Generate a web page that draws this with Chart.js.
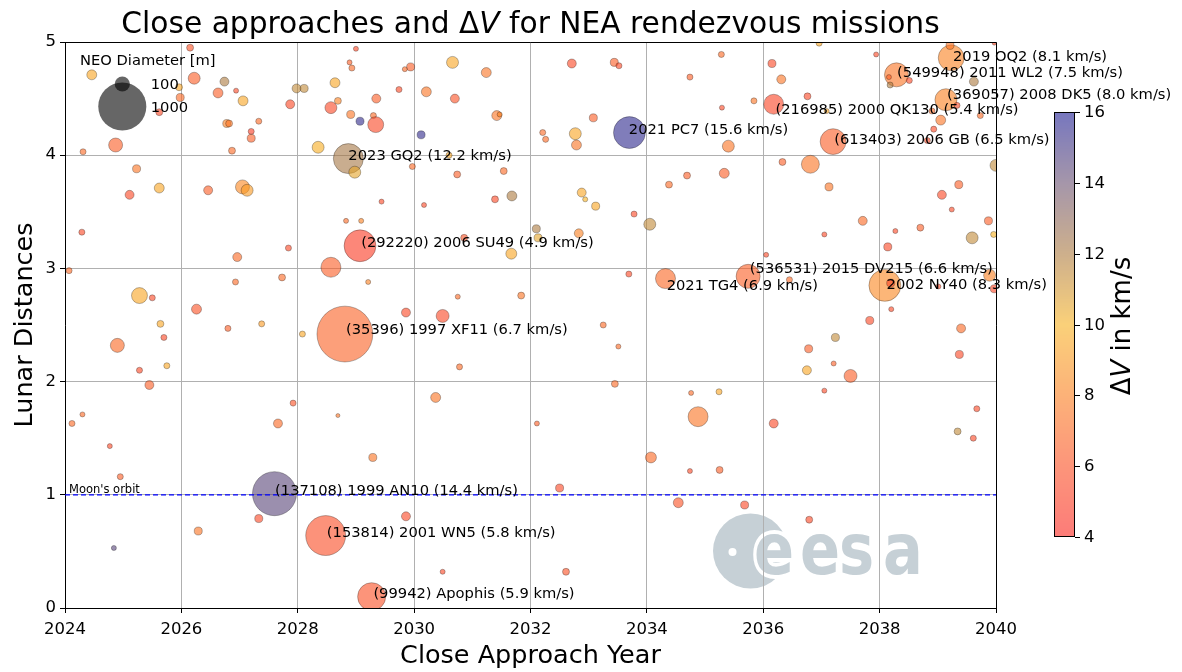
<!DOCTYPE html>
<html>
<head>
<meta charset="utf-8">
<title>Close approaches and ΔV for NEA rendezvous missions</title>
<script src="https://cdn.jsdelivr.net/npm/chart.js@4"></script>
<style>
  html, body { margin: 0; padding: 0; background: #fff; }
</style>
</head>
<body>
<canvas id="neaChart" width="1182" height="672"></canvas>
<script>
// close approach year of each NEA
var years = [
  2024.46, 2026.15, 2026.22, 2025.96, 2025.98, 2025.62, 2026.74, 2026.63, 2026.94, 2027.06,
  2026.78, 2026.82, 2027.33, 2027.20, 2027.20, 2024.87, 2024.31, 2026.87, 2027.98, 2028.11,
  2028.64, 2029.00, 2028.89, 2028.93, 2029.35, 2027.87, 2028.57, 2028.69, 2028.91, 2029.07,
  2029.30, 2029.34, 2028.35, 2028.87, 2028.98, 2025.23, 2025.62, 2025.11, 2026.46, 2027.05,
  2027.13, 2024.29, 2027.84, 2026.96, 2028.83, 2029.09, 2029.07, 2028.57, 2024.07, 2027.73,
  2026.93, 2029.21, 2025.28, 2025.50, 2026.26, 2025.64, 2027.38, 2028.81,
  2030.66, 2029.94, 2029.84, 2031.24, 2029.74, 2030.21, 2030.70, 2030.12, 2031.42, 2031.47,
  2030.60, 2029.97, 2030.74, 2031.54, 2029.44, 2030.17, 2031.39, 2031.68, 2032.71, 2033.44,
  2033.52, 2033.08, 2032.21, 2032.26, 2032.77, 2032.79, 2033.70, 2034.74, 2034.69, 2034.38,
  2032.88, 2032.94, 2033.12, 2033.78, 2034.05, 2032.10, 2032.13, 2032.83, 2030.86, 2031.67,
  2033.69, 2034.32, 2030.75, 2031.84, 2029.86, 2030.49, 2033.25,
  2036.96, 2035.28, 2037.94, 2036.15, 2036.31, 2035.84, 2035.29, 2036.76, 2036.18, 2037.09,
  2037.20, 2035.40, 2036.81, 2036.33, 2035.33, 2037.13, 2039.07, 2039.36, 2039.24, 2037.71,
  2038.27, 2038.70, 2037.05, 2038.14, 2039.87, 2039.59, 2039.96, 2040.00, 2036.05, 2035.74,
  2036.45, 2038.09, 2038.19, 2039.01, 2039.89, 2039.97, 2037.83, 2038.20, 2039.40, 2039.23,
  2039.21, 2038.29, 2038.16, 2038.18, 2038.51, 2039.62, 2039.14, 2039.33, 2039.73, 2038.90,
  2039.05, 2038.93, 2038.82, 2039.97,
  2024.90, 2025.70, 2026.80, 2028.08, 2025.28, 2025.75, 2025.45, 2024.12, 2024.30, 2024.77,
  2024.95, 2027.92, 2027.66, 2028.69, 2029.29, 2027.60, 2027.33, 2026.29, 2024.84, 2028.48,
  2029.27,
  2030.78, 2033.51, 2033.45, 2030.37, 2032.11, 2034.07, 2034.76, 2034.88, 2034.74, 2032.50,
  2034.54, 2029.86, 2030.49, 2032.61,
  2035.24, 2035.25, 2035.68, 2036.18, 2036.78, 2037.24, 2036.75, 2037.21, 2037.50, 2037.05,
  2036.79, 2039.37, 2039.67, 2039.34, 2039.61
];

// distance at close approach, lunar distances
var lunarDist = [
  4.71, 4.95, 4.68, 4.60, 4.51, 4.38, 4.65, 4.55, 4.57, 4.48,
  4.28, 4.28, 4.30, 4.21, 4.15, 4.09, 4.03, 4.04, 4.59, 4.59,
  4.64, 4.94, 4.82, 4.77, 4.50, 4.45, 4.42, 4.48, 4.36, 4.30,
  4.35, 4.27, 4.07, 3.97, 3.85, 3.88, 3.71, 3.65, 3.69, 3.72,
  3.69, 3.32, 3.18, 3.10, 3.42, 3.42, 3.20, 3.01, 2.98, 2.92,
  2.88, 2.88, 2.76, 2.74, 2.64, 2.51, 2.51, 2.42,
  4.82, 4.78, 4.76, 4.73, 4.58, 4.56, 4.50, 4.18, 4.35, 4.36,
  4.00, 3.90, 3.83, 3.86, 3.59, 3.56, 3.61, 3.64, 4.81, 4.82,
  4.79, 4.33, 4.20, 4.14, 4.19, 4.09, 4.20, 4.69, 3.82, 3.74,
  3.67, 3.61, 3.55, 3.48, 3.39, 3.35, 3.27, 3.31, 3.27, 3.13,
  2.95, 2.91, 2.75, 2.76, 2.61, 2.58, 2.50,
  4.99, 4.89, 4.89, 4.81, 4.67, 4.48, 4.42, 4.52, 4.45, 4.39,
  4.12, 4.08, 3.92, 3.94, 3.84, 3.72, 3.65, 3.74, 3.52, 3.42,
  3.33, 3.36, 3.30, 3.19, 3.42, 3.27, 3.30, 3.91, 3.12, 2.93,
  2.90, 2.85, 2.87, 2.84, 2.94, 2.82, 2.54, 2.64, 2.47, 4.86,
  4.97, 4.71, 4.69, 4.62, 4.66, 4.65, 4.49, 4.44, 4.35, 4.39,
  4.31, 4.23, 4.13, 4.99,
  2.32, 2.39, 2.47, 2.42, 2.10, 2.14, 1.97, 1.63, 1.71, 1.43,
  1.16, 1.81, 1.63, 1.70, 1.33, 1.01, 0.79, 0.68, 0.53, 0.64,
  0.10,
  2.13, 2.31, 1.98, 1.86, 1.63, 1.33, 1.90, 1.69, 1.21, 1.06,
  0.93, 0.81, 0.32, 0.32,
  1.91, 1.22, 0.91, 1.63, 2.29, 2.39, 2.10, 2.16, 2.05, 1.92,
  0.78, 2.24, 1.76, 1.56, 1.50
];

// estimated diameter, m
var diameters = [
  43, 21, 62, 21, 28, 21, 35, 43, 11, 43,
  28, 21, 16, 16, 28, 85, 16, 21, 35, 28,
  43, 11, 11, 16, 35, 35, 62, 21, 28, 28,
  16, 110, 62, 390, 62, 28, 43, 35, 35, 85,
  62, 16, 16, 35, 11, 11, 440, 173, 16, 21,
  16, 11, 110, 16, 43, 21, 16, 1350,
  62, 28, 11, 43, 16, 43, 35, 28, 43, 11,
  16, 16, 21, 21, 11, 11, 21, 43, 35, 28,
  16, 28, 16, 16, 62, 43, 440, 16, 21, 21,
  35, 11, 28, 16, 62, 28, 28, 35, 21, 52,
  16, 173, 11, 21, 35, 73, 16,
  16, 16, 11, 28, 35, 16, 11, 21, 173, 11,
  290, 62, 140, 21, 43, 28, 35, 28, 11, 35,
  11, 21, 11, 28, 28, 62, 16, 62, 11, 250,
  16, 440, 28, 11, 62, 28, 28, 11, 35, 290,
  28, 250, 11, 16, 16, 35, 210, 16, 16, 16,
  43, 16, 16, 7,
  85, 16, 16, 16, 16, 16, 35, 16, 11, 11,
  16, 16, 35, 7, 28, 840, 28, 28, 11, 690,
  340,
  16, 11, 21, 43, 11, 52, 11, 173, 11, 28,
  43, 35, 11, 21,
  16, 21, 28, 35, 28, 28, 35, 11, 73, 11,
  21, 28, 16, 21, 16
];

// rendezvous delta-v, km/s
var deltaV = [
  9.5, 6.0, 6.5, 9.5, 7.0, 5.5, 12.0, 6.5, 5.5, 9.5,
  8.0, 7.5, 7.0, 5.0, 6.5, 6.5, 7.0, 7.0, 11.5, 11.5,
  9.5, 5.5, 6.5, 7.0, 6.5, 5.5, 5.5, 8.0, 7.5, 15.5,
  7.0, 5.5, 9.8, 12.2, 10.5, 7.5, 9.5, 5.5, 6.5, 8.3,
  9.0, 5.5, 5.5, 7.0, 7.0, 8.0, 4.9, 6.5, 7.0, 7.0,
  7.0, 8.0, 9.5, 5.5, 6.0, 9.5, 9.0, 6.7,
  9.5, 6.5, 7.0, 7.5, 5.5, 7.5, 6.0, 15.5, 7.5, 8.0,
  9.5, 7.0, 6.5, 7.0, 5.5, 5.5, 5.5, 12.0, 5.5, 6.5,
  5.5, 6.5, 7.0, 7.0, 9.5, 7.5, 15.6, 6.5, 6.5, 7.0,
  9.5, 10.0, 9.5, 5.5, 11.5, 12.0, 10.5, 8.0, 6.0, 9.5,
  5.5, 6.9, 7.0, 7.5, 5.5, 5.5, 7.0,
  9.5, 7.0, 5.5, 5.5, 7.5, 7.5, 5.5, 5.5, 5.4, 9.5,
  6.5, 7.5, 7.5, 6.5, 6.5, 7.5, 5.5, 6.5, 5.5, 7.0,
  5.5, 6.5, 5.5, 5.5, 6.5, 11.5, 10.0, 11.5, 5.5, 6.6,
  7.0, 8.3, 5.5, 5.5, 8.0, 5.5, 5.5, 5.5, 7.0, 8.1,
  7.5, 7.5, 6.5, 12.0, 5.5, 12.0, 8.0, 5.5, 7.0, 7.0,
  7.5, 5.5, 5.5, 5.5,
  7.0, 5.5, 6.5, 9.5, 5.5, 9.5, 6.5, 7.0, 7.0, 5.5,
  6.5, 6.0, 7.0, 7.5, 7.5, 14.4, 5.5, 7.5, 14.5, 5.8,
  5.9,
  7.0, 7.0, 7.0, 7.5, 6.5, 7.0, 7.0, 7.5, 5.5, 5.5,
  6.0, 5.5, 5.5, 6.0,
  9.5, 6.5, 5.5, 5.5, 6.5, 11.5, 9.5, 6.5, 6.5, 5.5,
  5.5, 5.5, 5.5, 11.5, 5.5
];

// annotated objects and where their text sits (year, LD)
var labelNames = [
  '2019 OQ2 (8.1 km/s)', '(549948) 2011 WL2 (7.5 km/s)', '(369057) 2008 DK5 (8.0 km/s)',
  '(216985) 2000 QK130 (5.4 km/s)', '(613403) 2006 GB (6.5 km/s)', '2021 PC7 (15.6 km/s)',
  '2023 GQ2 (12.2 km/s)', '(292220) 2006 SU49 (4.9 km/s)', '(536531) 2015 DV215 (6.6 km/s)',
  '2021 TG4 (6.9 km/s)', '2002 NY40 (8.3 km/s)', '(35396) 1997 XF11 (6.7 km/s)',
  '(137108) 1999 AN10 (14.4 km/s)', '(153814) 2001 WN5 (5.8 km/s)', '(99942) Apophis (5.9 km/s)'
];
var labelX = [2039.26, 2038.30, 2039.16, 2036.21, 2037.22, 2033.69, 2028.87, 2029.09,
  2035.77, 2034.34, 2038.12, 2028.83, 2027.61, 2028.50, 2029.30];
var labelY = [4.83, 4.69, 4.50, 4.36, 4.10, 4.19, 3.96, 3.19,
  2.96, 2.81, 2.82, 2.42, 1.00, 0.63, 0.09];

var moonOrbit = 1;
var legendSizes = [100, 1000];
var cbarTicks = [4, 6, 8, 10, 12, 14, 16];

if (years.length != lunarDist.length || years.length != diameters.length || years.length != deltaV.length)
  console.error('data length mismatch', years.length, lunarDist.length, diameters.length, deltaV.length);

var FONT = '"DejaVu Sans", Verdana, sans-serif';
var ALPHA = 0.6;

// marker area grows with diameter (radius ~ sqrt)
function bubbleRadius(d) { return 0.76 * Math.sqrt(d); }

// colour map stops (opaque colours, drawn with ALPHA on white)
var cmapVals = [4, 6, 8, 10, 12, 14, 16];
var cmapRGB = [[250, 36, 30], [250, 78, 34], [250, 126, 30], [247, 177, 32],
  [172, 122, 63], [105, 80, 113], [27, 27, 147]];

function cmap(v) {
  if (v <= cmapVals[0]) return cmapRGB[0];
  for (var i = 1; i < cmapVals.length; i++) {
    if (v <= cmapVals[i]) {
      var t = (v - cmapVals[i - 1]) / (cmapVals[i] - cmapVals[i - 1]);
      var a = cmapRGB[i - 1], b = cmapRGB[i];
      return [a[0] + (b[0] - a[0]) * t, a[1] + (b[1] - a[1]) * t, a[2] + (b[2] - a[2]) * t];
    }
  }
  return cmapRGB[cmapRGB.length - 1];
}
function rgba(c, a) {
  return 'rgba(' + Math.round(c[0]) + ',' + Math.round(c[1]) + ',' + Math.round(c[2]) + ',' + a + ')';
}

function drawLogo(ctx) {
  var grey = '#c6d0d6';
  ctx.save();
  ctx.fillStyle = grey;
  ctx.beginPath(); ctx.arc(750.5, 551, 37.5, 0, Math.PI * 2); ctx.fill();
  ctx.fillStyle = '#fff';
  ctx.beginPath(); ctx.arc(732.5, 552, 4, 0, Math.PI * 2); ctx.fill();
  ctx.font = 'bold 72px ' + FONT;
  ctx.textBaseline = 'alphabetic';
  var letters = [['e', 754], ['e', 800], ['s', 839], ['a', 883]];
  letters.forEach(function(l, i) {
    ctx.save();
    ctx.translate(l[1], 574);
    ctx.scale(0.82, 1);
    if (i == 0) {
      ctx.lineWidth = 8; ctx.strokeStyle = '#fff'; ctx.lineJoin = 'round';
      ctx.strokeText(l[0], 0, 0);
    }
    ctx.fillStyle = grey;
    ctx.fillText(l[0], 0, 0);
    ctx.restore();
  });
  ctx.restore();
}

// text pieces, some italic (for the ΔV bits)
function mixedWidth(ctx, parts, size) {
  var w = 0;
  parts.forEach(function(p) { ctx.font = (p[1] ? 'italic ' : '') + size + 'px ' + FONT; w += ctx.measureText(p[0]).width; });
  return w;
}
function drawMixed(ctx, parts, size, x, y) {
  parts.forEach(function(p) {
    ctx.font = (p[1] ? 'italic ' : '') + size + 'px ' + FONT;
    ctx.fillText(p[0], x, y);
    x += ctx.measureText(p[0]).width;
  });
}

var decor = {
  id: 'decor',
  beforeDraw: function(chart) { drawLogo(chart.ctx); },
  afterDraw: function(chart) {
    var ctx = chart.ctx, area = chart.chartArea;
    var xs = chart.scales.x, ys = chart.scales.y;
    ctx.save();

    // top and right spines
    ctx.strokeStyle = '#000';
    ctx.lineWidth = 1;
    ctx.beginPath();
    ctx.moveTo(area.left, Math.round(area.top) + 0.5);
    ctx.lineTo(area.right + 0.5, Math.round(area.top) + 0.5);
    ctx.lineTo(area.right + 0.5, area.bottom);
    ctx.stroke();

    // title
    ctx.fillStyle = '#000';
    ctx.textBaseline = 'alphabetic';
    ctx.textAlign = 'left';
    var tparts = [['Close approaches and Δ', false], ['V', true], [' for NEA rendezvous missions', false]];
    var tw = mixedWidth(ctx, tparts, 29.7);
    drawMixed(ctx, tparts, 29.7, (area.left + area.right) / 2 - tw / 2, 33);

    // moon orbit note
    ctx.font = '11.5px ' + FONT;
    ctx.fillText("Moon's orbit", xs.getPixelForValue(2024) + 4, ys.getPixelForValue(moonOrbit) - 2);

    // annotations
    ctx.font = '14.7px ' + FONT;
    labelNames.forEach(function(name, i) {
      ctx.fillText(name, xs.getPixelForValue(labelX[i]), ys.getPixelForValue(labelY[i]));
    });

    // size legend
    ctx.fillText('NEO Diameter [m]', 80, 65);
    var legY = [84, 106.5];
    legendSizes.forEach(function(d, i) {
      ctx.fillStyle = 'rgba(0,0,0,0.6)';
      ctx.beginPath();
      ctx.arc(122.3, legY[i], bubbleRadius(d), 0, Math.PI * 2);
      ctx.fill();
    });
    ctx.fillStyle = '#000';
    legendSizes.forEach(function(d, i) {
      ctx.fillText(String(d), 150.7, legY[i] + 5.3);
    });

    // colour bar
    var cbL = 1054, cbR = 1075, cbT = 112, cbB = 537;
    ctx.fillStyle = '#fff';
    ctx.fillRect(cbL, cbT, cbR - cbL, cbB - cbT);
    for (var py = cbT; py < cbB; py++) {
      var v = 16 - (py + 0.5 - cbT) / (cbB - cbT) * 12;
      ctx.fillStyle = rgba(cmap(v), ALPHA);
      ctx.fillRect(cbL, py, cbR - cbL, 1);
    }
    ctx.strokeStyle = '#000';
    ctx.lineWidth = 1;
    ctx.strokeRect(cbL + 0.5, cbT + 0.5, cbR - cbL - 1, cbB - cbT - 1);
    ctx.font = '16.5px ' + FONT;
    ctx.fillStyle = '#000';
    ctx.textBaseline = 'middle';
    cbarTicks.forEach(function(t) {
      var y = Math.round(cbB - (t - 4) / 12 * (cbB - cbT)) + 0.5;
      ctx.beginPath();
      ctx.moveTo(cbR, y);
      ctx.lineTo(cbR + 5, y);
      ctx.stroke();
      ctx.fillText(String(t), cbR + 9, y);
    });

    // colour bar label, rotated
    ctx.save();
    ctx.translate(1130, 326);
    ctx.rotate(-Math.PI / 2);
    ctx.textBaseline = 'alphabetic';
    var cparts = [['Δ', false], ['V', true], [' in km/s', false]];
    var cw = mixedWidth(ctx, cparts, 26);
    drawMixed(ctx, cparts, 26, -cw / 2, 0);
    ctx.restore();

    ctx.restore();
  }
};

document.addEventListener('DOMContentLoaded', function() {
  var ctx = document.getElementById('neaChart').getContext('2d');

  var points = years.map(function(y, i) {
    return { x: y, y: lunarDist[i], r: bubbleRadius(diameters[i]) };
  });

  new Chart(ctx, {
    type: 'bubble',
    data: {
      datasets: [{
        type: 'bubble',
        data: points,
        backgroundColor: function(c) { return rgba(cmap(deltaV[c.dataIndex]), ALPHA); },
        borderColor: 'rgba(0,0,0,0.35)',
        borderWidth: 0.8,
        order: 1
      }, {
        type: 'line',
        data: [{ x: 2024, y: moonOrbit }, { x: 2040, y: moonOrbit }],
        borderColor: '#0000ff',
        borderWidth: 1.2,
        borderDash: [5, 3],
        pointRadius: 0,
        fill: false,
        order: 0
      }]
    },
    options: {
      responsive: false,
      maintainAspectRatio: false,
      animation: false,
      events: [],
      layout: { padding: { left: 0, top: 42, right: 186, bottom: 0 } },
      plugins: {
        legend: { display: false },
        tooltip: { enabled: false },
        title: { display: false }
      },
      scales: {
        x: {
          type: 'linear',
          min: 2024,
          max: 2040,
          afterFit: function(s) { s.height = 64; },
          ticks: {
            stepSize: 2,
            color: '#000',
            padding: 7,
            maxRotation: 0,
            font: { family: FONT, size: 16.5 },
            callback: function(v) { return String(v); }
          },
          grid: { color: '#b0b0b0', lineWidth: 1, tickLength: 5, tickColor: '#000' },
          border: { color: '#000', width: 1 },
          title: {
            display: true,
            text: 'Close Approach Year',
            color: '#000',
            font: { family: FONT, size: 25.5 },
            padding: { top: 0, bottom: 0 }
          }
        },
        y: {
          type: 'linear',
          min: 0,
          max: 5,
          afterFit: function(s) { s.width = 65; },
          ticks: {
            stepSize: 1,
            color: '#000',
            padding: 4,
            font: { family: FONT, size: 16.5 }
          },
          grid: { color: '#b0b0b0', lineWidth: 1, tickLength: 5, tickColor: '#000' },
          border: { color: '#000', width: 1 },
          title: {
            display: true,
            text: 'Lunar Distances',
            color: '#000',
            font: { family: FONT, size: 25.5 },
            padding: { top: 10, bottom: 0 }
          }
        }
      }
    },
    plugins: [decor]
  });
});
</script>
</body>
</html>
